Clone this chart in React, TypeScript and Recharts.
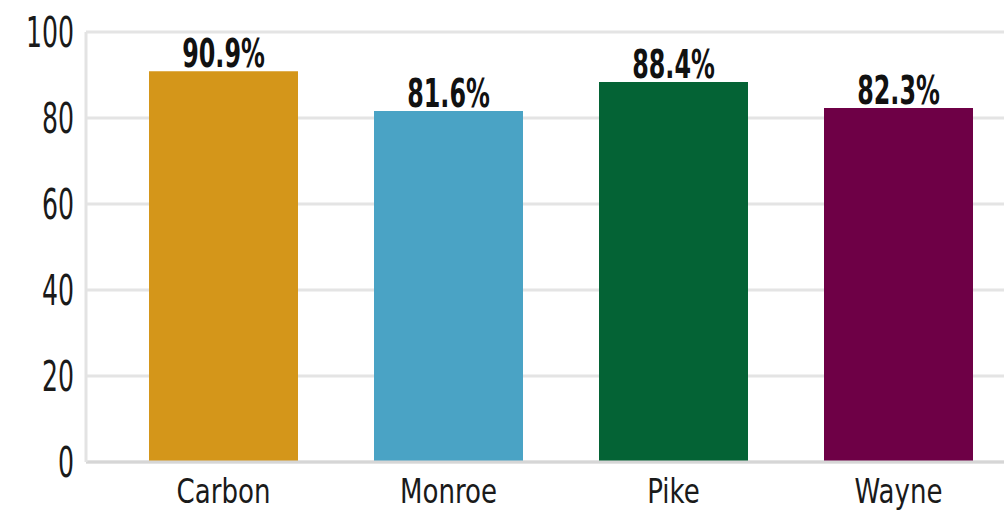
import { BarChart, Bar, XAxis, YAxis, CartesianGrid, Cell, LabelList } from "recharts";

const counties = ["Carbon", "Monroe", "Pike", "Wayne"];
const rates = [90.9, 81.6, 88.4, 82.3];
const colors = ["#D4961A", "#4AA3C5", "#046335", "#6E0046"];
const yTicks = [0, 20, 40, 60, 80, 100];

// no condensed DIN-like font available, so squeeze DejaVu Condensed vertically
const font = "'DejaVu Sans Condensed', 'Liberation Sans Narrow', sans-serif";

const YTick = ({ x, y, payload }: any) => (
  <g transform={`translate(${x},${y + 15}) scale(1,1.5)`}>
    <text x={0} y={0} textAnchor="end" fill="#1a1a1a" fontSize={28} fontFamily={font}>
      {payload.value}
    </text>
  </g>
);

const XTick = ({ x, y, payload }: any) => (
  <g transform={`translate(${x},${y + 25}) scale(1,1.18)`}>
    <text x={0} y={0} textAnchor="middle" fill="#1a1a1a" fontSize={29} fontFamily={font}>
      {payload.value}
    </text>
  </g>
);

const ValueLabel = ({ x, y, width, value }: any) => (
  <g transform={`translate(${x + width / 2},${y - 4}) scale(1,1.45)`}>
    <text x={0} y={0} textAnchor="middle" fill="#111" fontSize={26.5} fontWeight={700} fontFamily={font}>
      {`${value}%`}
    </text>
  </g>
);

const App = () => {
  const data = counties.map((name, i) => ({ name, value: rates[i] }));

  return (
    <div style={{ position: "absolute", left: 0, top: 0, width: 1004, height: 515, overflow: "hidden", background: "#fff" }}>
      <BarChart
        width={1020}
        height={515}
        data={data}
        margin={{ top: 32, right: 9, bottom: 0, left: 0 }}
      >
        <CartesianGrid vertical={false} stroke="#e4e4e4" strokeWidth={3} />
        <XAxis
          dataKey="name"
          padding={{ left: 25, right: 0 }}
          height={53}
          tickLine={false}
          tickMargin={10}
          axisLine={{ stroke: "#d6d6d6", strokeWidth: 3 }}
          tick={<XTick />}
        />
        <YAxis
          domain={[0, 100]}
          ticks={yTicks}
          width={86}
          tickLine={false}
          tickMargin={6}
          axisLine={{ stroke: "#e3e3e3", strokeWidth: 3 }}
          tick={<YTick />}
        />
        <Bar dataKey="value" barSize={149} isAnimationActive={false}>
          {data.map((d, i) => (
            <Cell key={d.name} fill={colors[i]} />
          ))}
          <LabelList dataKey="value" content={<ValueLabel />} />
        </Bar>
      </BarChart>
    </div>
  );
};

export default App;
